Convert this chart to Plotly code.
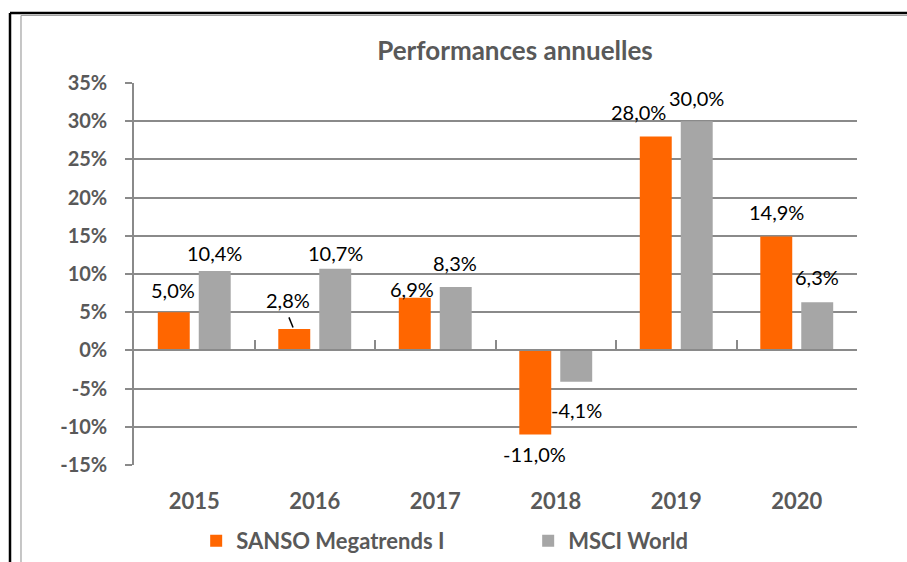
import plotly.graph_objects as go

years = ["2015", "2016", "2017", "2018", "2019", "2020"]
sanso = [5.0, 2.8, 6.9, -11.0, 28.0, 14.9]
msci = [10.4, 10.7, 8.3, -4.1, 30.0, 6.3]
series_names = ["SANSO Megatrends I", "MSCI World"]
y_ticks = [-15, -10, -5, 0, 5, 10, 15, 20, 25, 30, 35]

# label placement (offsets from each bar: x in category units, y in % units)
sanso_lbl_dx = [-0.176, -0.218, -0.193, -0.176, -0.317, -0.168]
sanso_lbl_dy = [2.85, 3.74, 1.08, -2.5, 3.15, 3.16]
msci_lbl_dx = [0.172, 0.172, 0.164, 0.172, 0.172, 0.172]
msci_lbl_dy = [2.3, 2.1, 3.2, -3.75, 3.1, 3.25]

ORANGE = "#FF6600"
GREY = "#A6A6A6"
TXT = "#595959"
GRID = "#8A8A8A"
FONT = "Lato, Carlito, Calibri, sans-serif"

xs = list(range(len(years)))


def fmt(v):
    return f"{v:.1f}".replace(".", ",") + "%"


fig = go.Figure()
fig.add_trace(go.Bar(x=xs, y=sanso, name=series_names[0], marker=dict(color=ORANGE, line=dict(width=0))))
fig.add_trace(go.Bar(x=xs, y=msci, name=series_names[1], marker=dict(color=GREY, line=dict(width=0))))
# helper trace for the zero-line axis with category separators
fig.add_trace(go.Scatter(x=[None], y=[None], xaxis="x2", showlegend=False, hoverinfo="skip"))

label_font = dict(family=FONT, size=20, color="#000000")
annotations = []
for i in xs:
    annotations.append(dict(x=i + sanso_lbl_dx[i], y=sanso[i] + sanso_lbl_dy[i], text=fmt(sanso[i]),
                            showarrow=False, xref="x", yref="y", font=label_font))
    annotations.append(dict(x=i + msci_lbl_dx[i], y=msci[i] + msci_lbl_dy[i], text=fmt(msci[i]),
                            showarrow=False, xref="x", yref="y", font=label_font))

shapes = [
    # outer frame (black) and inner border (grey)
    dict(type="line", xref="paper", yref="paper", x0=-0.1715, x1=-0.1715, y0=1.1832, y1=-0.3,
         line=dict(color="#000000", width=2.5)),
    dict(type="line", xref="paper", yref="paper", x0=-0.1715, x1=1.1, y0=1.1832, y1=1.1832,
         line=dict(color="#000000", width=2.5)),
    dict(type="line", xref="paper", yref="paper", x0=-0.1563, x1=-0.1563, y0=1.1767, y1=-0.3,
         line=dict(color="#A0A0A0", width=1.2)),
    dict(type="line", xref="paper", yref="paper", x0=-0.1563, x1=1.1, y0=1.1767, y1=1.1767,
         line=dict(color="#A0A0A0", width=1.2)),
    # leader line for 2016 label
    dict(type="line", xref="x", yref="y", x0=1 - 0.214, x1=1 - 0.18, y0=sanso[1] + 1.52, y1=sanso[1] + 0.2,
         line=dict(color="#000000", width=1.5)),
]

fig.update_layout(
    width=907, height=562,
    margin=dict(l=134, r=50, t=83, b=97),
    paper_bgcolor="white", plot_bgcolor="white",
    barmode="group", bargap=0.32, bargroupgap=0.22,
    title=dict(text="Performances annuelles", x=0.527, xref="paper", xanchor="center",
               y=1 - 51 / 562, yanchor="middle",
               font=dict(family=FONT, size=26, color=TXT, weight="bold")),
    font=dict(family=FONT, color=TXT),
    xaxis=dict(range=[-0.5, len(years) - 0.5], tickvals=xs, ticktext=years,
               showgrid=False, zeroline=False, showline=False, ticks="", automargin=False,
               ticklabelstandoff=21, tickfont=dict(family=FONT, size=22, color=TXT, weight="bold")),
    xaxis2=dict(overlaying="x", anchor="free", position=15 / 50, side="bottom",
                range=[-0.5, len(years) - 0.5], tickvals=[i - 0.5 for i in range(len(years) + 1)],
                showticklabels=False, ticks="inside", ticklen=9, tickwidth=1.5, tickcolor=GRID,
                showline=True, linecolor=GRID, linewidth=2, showgrid=False, zeroline=False),
    yaxis=dict(range=[-15, 35], tickvals=y_ticks, ticktext=[f"{v}%" for v in y_ticks],
               showgrid=True, gridcolor=GRID, gridwidth=1.5, zeroline=False, automargin=False,
               showline=True, linecolor=GRID, linewidth=1.5,
               ticks="outside", ticklen=7, tickwidth=1.5, tickcolor=GRID,
               ticklabelstandoff=14, tickfont=dict(family=FONT, size=20, color=TXT, weight="bold")),
    legend=dict(orientation="h", x=0.086, xanchor="left", xref="paper",
                y=1 - 541 / 562, yanchor="middle", yref="container",
                entrywidth=287, font=dict(family=FONT, size=22, color=TXT, weight="bold"),
                traceorder="normal"),
    showlegend=True,
    annotations=annotations,
    shapes=shapes,
)

fig.write_html("out.html", config={"displayModeBar": False},
               post_script="document.body.style.margin='0';")
